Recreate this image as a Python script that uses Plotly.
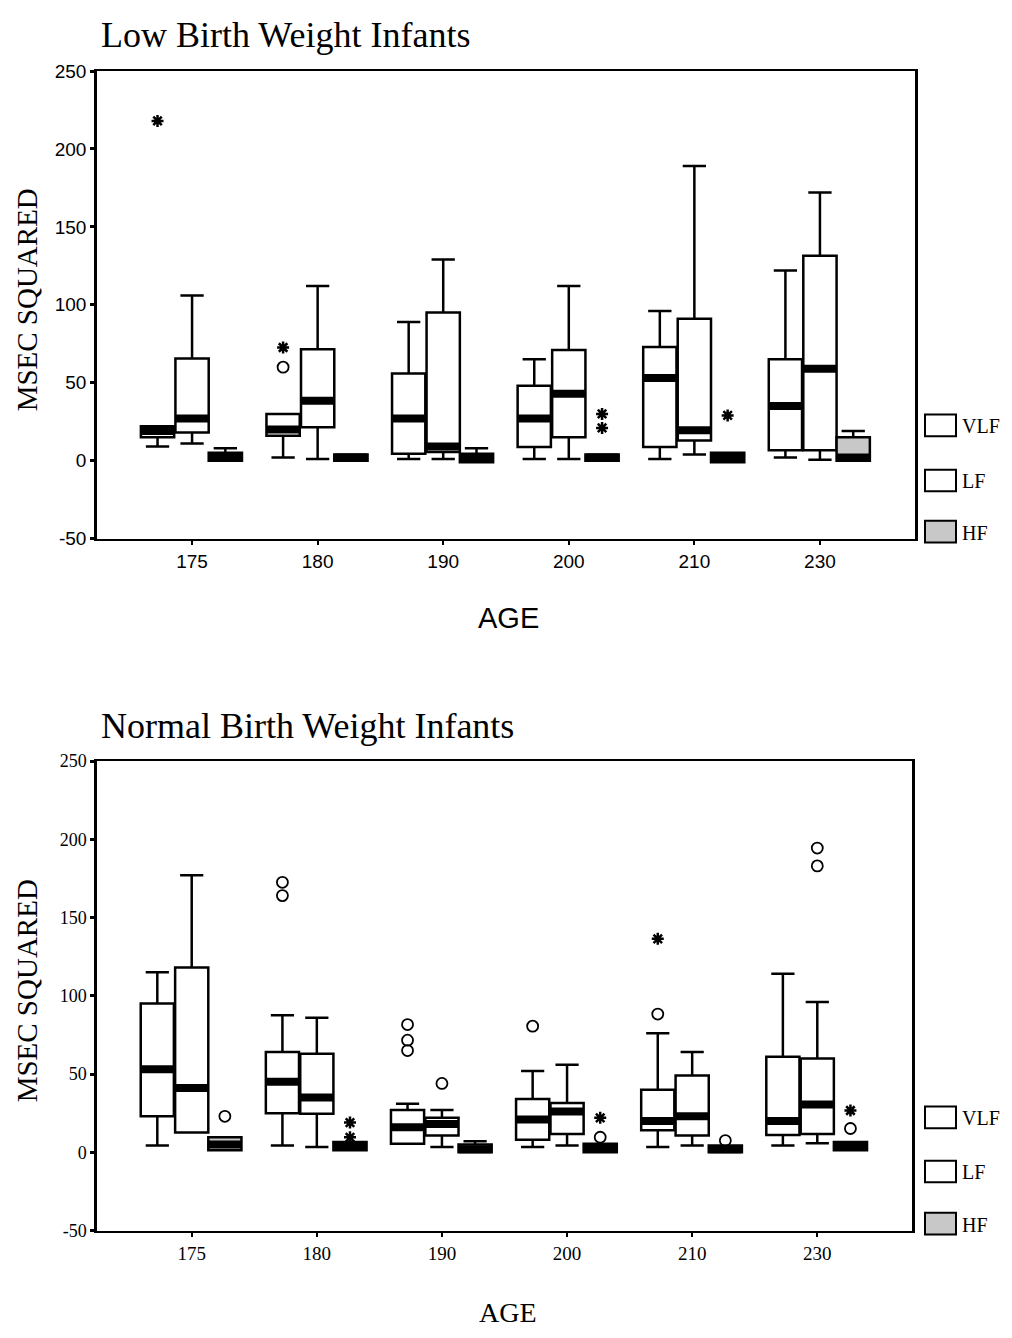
import plotly.graph_objects as go

W, H = 1012, 1338

ages = ["175", "180", "190", "200", "210", "230"]
series = ["VLF", "LF", "HF"]

# ---- Low Birth Weight Infants (top) ----
low_vlf_lo  = [9, 2, 1, 1, 1, 2]
low_vlf_q1  = [15, 16, 4.5, 8.7, 8.7, 6.6]
low_vlf_med = [19, 20, 27, 27, 53, 35]
low_vlf_q3  = [22, 30, 56, 48, 73, 65]
low_vlf_hi  = [22, 30, 89, 65, 96, 122]

low_lf_lo  = [11, 1, 1, 1, 4, 0.6]
low_lf_q1  = [18, 21.5, 5.5, 15, 13, 6.6]
low_lf_med = [27, 38.5, 9, 43, 19.5, 59]
low_lf_q3  = [65.6, 71.5, 95, 71, 91, 131.5]
low_lf_hi  = [106, 112, 129, 112, 189, 172]

low_hf_lo  = [0, 0, 0, 0, 0, 0]
low_hf_q1  = [0, 0, -1, 0, -1, 0]
low_hf_med = [2, 2, 1, 2, 2, 2]
low_hf_q3  = [5, 4, 4.5, 4, 5, 15]
low_hf_hi  = [8, 4, 8, 4, 5, 19]

# outliers: (age index, series, value, kind)
low_outliers = [
    (0, "VLF", 218, "star"),
    (1, "VLF", 72.6, "star"),
    (1, "VLF", 60, "circle"),
    (3, "HF", 30, "star"),
    (3, "HF", 21, "star"),
    (4, "HF", 29, "star"),
]

# ---- Normal Birth Weight Infants (bottom) ----
nor_vlf_lo  = [4.4, 4.4, 5.4, 3.3, 3.3, 4.4]
nor_vlf_q1  = [23, 25, 5.4, 8, 14, 11]
nor_vlf_med = [53, 45, 16, 21, 20, 20]
nor_vlf_q3  = [95, 64, 27, 34, 40, 61]
nor_vlf_hi  = [115, 87.5, 31, 52, 76, 114]

nor_lf_lo  = [12.7, 3.3, 3.3, 4.4, 4.4, 5.8]
nor_lf_q1  = [12.7, 24.6, 10.7, 11.7, 10.7, 11.7]
nor_lf_med = [41, 35, 18, 26, 23, 30.5]
nor_lf_q3  = [118, 63, 22, 31.5, 49, 60]
nor_lf_hi  = [177, 86, 27, 56, 64, 96]

nor_hf_lo  = [1.3, 1.3, 0, 0, 0, 1.3]
nor_hf_q1  = [1.3, 1.3, 0, 0, 0, 1.3]
nor_hf_med = [5, 3.5, 2, 2.5, 2, 3.5]
nor_hf_q3  = [9.6, 6.5, 5, 5.4, 4.4, 6.5]
nor_hf_hi  = [9.6, 6.5, 7, 5.4, 4.4, 6.5]

nor_outliers = [
    (0, "HF", 23, "circle"),
    (1, "VLF", 172.5, "circle"),
    (1, "VLF", 164, "circle"),
    (1, "HF", 19, "star"),
    (1, "HF", 9.6, "star"),
    (2, "VLF", 81.6, "circle"),
    (2, "VLF", 71.6, "circle"),
    (2, "VLF", 65, "circle"),
    (2, "LF", 44, "circle"),
    (3, "VLF", 80.6, "circle"),
    (3, "HF", 22, "star"),
    (3, "HF", 9.6, "circle"),
    (4, "VLF", 136.4, "star"),
    (4, "VLF", 88.3, "circle"),
    (4, "HF", 7.5, "circle"),
    (5, "LF", 194.4, "circle"),
    (5, "LF", 183, "circle"),
    (5, "HF", 26.7, "star"),
    (5, "HF", 15.2, "circle"),
]

yticks = [-50, 0, 50, 100, 150, 200, 250]
ytick_labels = ["-50", "0", "50", "100", "150", "200", "250"]

# ---- style ----
offsets = {"VLF": -0.275, "LF": 0.0, "HF": 0.265}
fills = {"VLF": "white", "LF": "white", "HF": "#c8c8c8"}
BOXW = 0.265
SERIF = "Liberation Serif, Times New Roman, serif"
SANS = "Liberation Sans, Arial, sans-serif"


def px(x):
    return x / W


def py(y):
    return 1 - y / H


fig = go.Figure()

panels = [
    ("x", "y", {
        "VLF": (low_vlf_lo, low_vlf_q1, low_vlf_med, low_vlf_q3, low_vlf_hi),
        "LF": (low_lf_lo, low_lf_q1, low_lf_med, low_lf_q3, low_lf_hi),
        "HF": (low_hf_lo, low_hf_q1, low_hf_med, low_hf_q3, low_hf_hi),
    }, low_outliers),
    ("x2", "y2", {
        "VLF": (nor_vlf_lo, nor_vlf_q1, nor_vlf_med, nor_vlf_q3, nor_vlf_hi),
        "LF": (nor_lf_lo, nor_lf_q1, nor_lf_med, nor_lf_q3, nor_lf_hi),
        "HF": (nor_hf_lo, nor_hf_q1, nor_hf_med, nor_hf_q3, nor_hf_hi),
    }, nor_outliers),
]

for xa, ya, data, outs in panels:
    for s in series:
        lo, q1, med, q3, hi = data[s]
        xs = [i + offsets[s] for i in range(len(ages))]
        fig.add_trace(go.Box(
            x=xs, q1=q1, median=med, q3=q3, lowerfence=lo, upperfence=hi,
            width=BOXW, whiskerwidth=0.7, boxpoints=False,
            fillcolor=fills[s], line=dict(color="black", width=2.5),
            xaxis=xa, yaxis=ya, showlegend=False, hoverinfo="skip",
        ))
        fig.add_trace(go.Scatter(
            x=xs, y=med, mode="markers",
            marker=dict(symbol="line-ew", size=23, color="black",
                        line=dict(color="black", width=8)),
            xaxis=xa, yaxis=ya, showlegend=False, hoverinfo="skip",
        ))
    for kind in ["star", "circle"]:
        pts = [(i + offsets[s], v) for (i, s, v, k) in outs if k == kind]
        if not pts:
            continue
        if kind == "star":
            mk = dict(symbol="asterisk-open", size=10, color="black",
                      line=dict(color="black", width=2.5))
        else:
            mk = dict(symbol="circle-open", size=11, color="black",
                      line=dict(color="black", width=1.8))
        fig.add_trace(go.Scatter(
            x=[p[0] for p in pts], y=[p[1] for p in pts], mode="markers",
            marker=mk, xaxis=xa, yaxis=ya, showlegend=False, hoverinfo="skip",
        ))

xr = [-0.757, 5.757]
common_x = dict(range=xr, tickmode="array", tickvals=list(range(len(ages))),
                ticktext=ages, showgrid=False, zeroline=False,
                showline=True, linecolor="black", linewidth=1.5, mirror=True,
                ticks="outside", ticklen=5, tickwidth=2, tickcolor="black")
common_y = dict(range=[-50, 250], tickmode="array", tickvals=yticks,
                ticktext=ytick_labels,
                showgrid=False, zeroline=False, showline=True,
                linecolor="black", linewidth=2.5, mirror=True,
                ticks="outside", ticklen=4, tickwidth=3, tickcolor="black")

fig.update_layout(
    width=W, height=H, margin=dict(l=0, r=0, t=0, b=0),
    paper_bgcolor="white", plot_bgcolor="white",
    xaxis=dict(domain=[px(97), px(915)], anchor="y",
               tickfont=dict(family=SANS, size=19, color="black"), **common_x),
    yaxis=dict(domain=[py(537), py(62)], anchor="x",
               tickfont=dict(family=SANS, size=19, color="black"), **common_y),
    xaxis2=dict(domain=[px(97), px(912)], anchor="y2",
                tickfont=dict(family=SERIF, size=19, color="black"), **common_x),
    yaxis2=dict(domain=[py(1240), py(763)], anchor="x2",
                tickfont=dict(family=SERIF, size=18, color="black"), **common_y),
)

ann = []
ann.append(dict(text="Low Birth Weight Infants", x=px(99), y=py(25),
                xanchor="left", yanchor="middle",
                font=dict(family=SERIF, size=36, color="black")))
ann.append(dict(text="Normal Birth Weight Infants", x=px(99), y=py(727),
                xanchor="left", yanchor="middle",
                font=dict(family=SERIF, size=36, color="black")))
ann.append(dict(text="MSEC SQUARED", x=px(27), y=py(295), textangle=-90,
                xanchor="center", yanchor="middle",
                font=dict(family=SERIF, size=29, color="black")))
ann.append(dict(text="MSEC SQUARED", x=px(27), y=py(997), textangle=-90,
                xanchor="center", yanchor="middle",
                font=dict(family=SERIF, size=29, color="black")))
ann.append(dict(text="AGE", x=px(508), y=py(618), xanchor="center",
                yanchor="middle", font=dict(family=SANS, size=29, color="black")))
ann.append(dict(text="AGE", x=px(508), y=py(1323), xanchor="center",
                yanchor="middle", font=dict(family=SERIF, size=28, color="black")))

shapes = []
legend_rows = [(422, 478, 530), (1125, 1180, 1233)]
for rows in legend_rows:
    for s, yc in zip(series, rows):
        shapes.append(dict(type="rect", xref="paper", yref="paper",
                           x0=px(925), x1=px(956), y0=py(yc + 11), y1=py(yc - 11),
                           line=dict(color="black", width=2), fillcolor=fills[s]))
        ann.append(dict(text=s, x=px(960), y=py(yc + 1), xanchor="left",
                        yanchor="middle",
                        font=dict(family=SERIF, size=20, color="black")))

for a in ann:
    a.update(xref="paper", yref="paper", showarrow=False)

fig.update_layout(annotations=ann, shapes=shapes)

fig.write_html("out.html")
